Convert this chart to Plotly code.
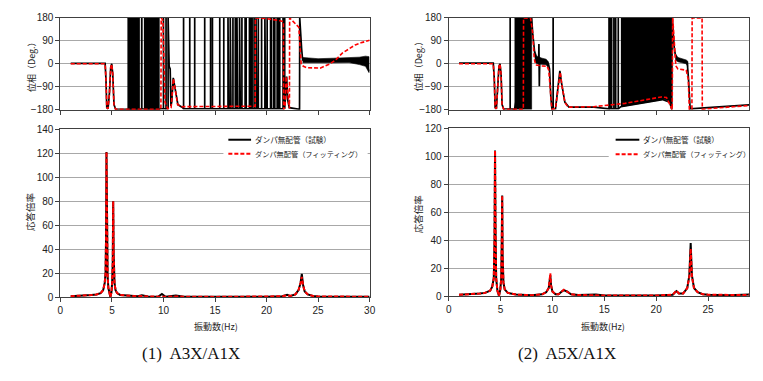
import plotly.graph_objects as go

# The page keeps the browser's default 8px body margin; the figure is sized so
# that margin + figure exactly fills the 763x381 window (no overflow, no scaling).
OFF = 8
WIN_W, WIN_H = 763, 381
FW, FH = WIN_W - 2 * OFF, WIN_H - 2 * OFF

# ---------------- data ----------------
X_TICKS = [0, 5, 10, 15, 20, 25, 30]
PH_TICKS = [-180, -90, 0, 90, 180]
PH_FLOOR = -176
PH_TOP = 180

# ---- (1) A3X/A1X  phase, test (black)
PHL_EXP_X = [1, 4.34, 4.42, 4.5, 4.62, 4.75, 4.88, 4.98, 5.08, 5.2, 5.35, 6.5, 7.7, 9.6, 9.7,
             10.45, 10.45, 10.55, 10.65, 10.72, 10.8, 10.95, 11.1, 11.4, 11.8, 21.7, 21.85,
             21.95, 22.05, 22.2, 23.2, 23.22, 23.4, 23.5, 24.5, 26, 27.5, 28.5, 29.3, 29.7, 29.95]
PHL_EXP_Y = [2, 2, -60, -172, -176, -120, -15, 0, -40, -160, -177, -178, -178, -178, -176,
             -175, 180, -10, -20, -165, -150, -55, -90, -160, -170, -172, -120,
             -50, -140, -172, -178, 180, 60, 15, 13, 12, 14, 15, 12, 5, -30]
PHL_SPIKES = [7.9, 10.0, 10.25, 11.95, 12.55, 13.03, 14.0, 14.57, 14.75, 15.46, 15.85, 16.26,
              16.32, 16.48, 16.55, 16.74, 16.97, 17.13, 17.19, 17.38, 17.45, 17.61, 17.92,
              18.02, 18.34, 18.47, 18.6, 18.79, 18.98, 19.05, 19.2, 19.52, 19.84, 19.91, 20.06,
              20.39, 20.48, 20.7, 20.8, 21.03, 21.12, 21.28, 21.6, 21.76]
BANDL1_X = [6.5, 7.7]
BANDL1_LO = [-178, -178]
BANDL1_HI = [180, 180]
BANDL2_X = [8.1, 9.6]
BANDL2_LO = [-178, -178]
BANDL2_HI = [180, 180]
BANDL3_X = [23.5, 25, 26.5, 28, 29, 29.6, 29.95]
BANDL3_LO = [4, 5, 4, 5, -3, -10, -35]
BANDL3_HI = [25, 20, 22, 24, 26, 30, 28]

# ---- (1) phase, fitting (red)
PHL_FIT_X = [1, 4.34, 4.42, 4.5, 4.62, 4.75, 4.88, 4.98, 5.08, 5.2, 5.35, 9.75, 9.78, 9.95,
             10.15, 10.4, 10.74, 10.96, 11.1, 11.37, 11.8, 15, 18.9, 18.92, 20, 21.3, 21.64,
             21.66, 21.8, 21.9, 22.05, 22.22, 22.24, 22.7, 23.13, 23.36, 23.58, 23.9, 24.5,
             25.2, 26.07, 26.7, 27.35, 28.0, 28.6, 29.3, 30]
PHL_FIT_Y = [0, 0, -60, -172, -176, -120, -15, -2, -40, -160, -178, -178, 180, 170,
             -150, -176, -172, -58, -90, -160, -168, -166, -166, 180, 177, 169, 165,
             -178, -170, -50, -120, -175, 180, 160, 143, -2, -10, -15, -17,
             -17, -2, 15, 42, 60, 74, 84, 92]

# ---- (2) A5X/A1X  phase, test (black)
PHR_EXP_X = [1, 4.3, 4.4, 4.48, 4.6, 4.72, 4.85, 4.95, 5.05, 5.15, 5.3, 6.35, 8.0, 8.1, 8.2,
             8.3, 8.45, 8.68, 8.7, 8.74, 8.78, 9.0, 9.5, 9.62, 9.72, 9.85, 9.95, 10.3, 10.55,
             10.72, 10.88, 11.2, 11.6, 14, 16.6, 18.5, 20.6, 21.3, 21.5, 21.55, 21.75, 21.9,
             22.3, 22.7, 23.0, 23.12, 23.28, 25, 27, 30]
PHR_EXP_Y = [3, 3, -60, -172, -176, -100, -10, 0, -40, -160, -177, -178, 180, 120, 60,
             40, 15, 12, 78, -88, 10, 10, 8, 0, -20, -130, -176, -176, -100,
             -28, -75, -150, -170, -170, -168, -155, -140, -150, -178, 180, 60, 25,
             14, 10, 5, -60, -176, -172, -168, -158]
PHR_SPIKES = [5.93, 10.07, 15.46, 15.6, 15.71, 15.93, 16.1, 16.35]
BANDR1_X = [6.35, 8.0]
BANDR1_LO = [-178, -178]
BANDR1_HI = [180, 180]
BANDR2_X = [16.6, 17.5, 18.5, 19.5, 20.6, 21.0, 21.3, 21.5]
BANDR2_LO = [-168, -162, -155, -148, -140, -142, -150, -178]
BANDR2_HI = [180, 180, 180, 180, 180, 180, 180, 180]
BANDR3_X = [8.3, 8.5, 9.0, 9.4, 9.6]
BANDR3_LO = [10, 0, -2, -4, -15]
BANDR3_HI = [50, 30, 22, 18, 8]
BANDR4_X = [21.85, 22.1, 22.5, 22.9, 23.05]
BANDR4_LO = [15, 8, 4, 0, -10]
BANDR4_HI = [40, 25, 20, 15, 10]

# ---- (2) phase, fitting (red)
PHR_FIT_X = [1, 4.3, 4.4, 4.48, 4.6, 4.72, 4.85, 4.95, 5.05, 5.15, 5.3, 7.2, 7.22, 7.9, 8.1,
             8.25, 8.4, 9.0, 9.5, 9.65, 9.8, 9.95, 10.3, 10.5, 10.76, 10.9, 11.2, 11.5, 14, 17,
             20.5, 21.0, 21.4, 21.55, 21.6, 21.75, 21.9, 22.1, 22.5, 22.9, 23.1, 23.2, 23.45,
             23.47, 24.43, 24.45, 25, 27, 30]
PHR_FIT_Y = [0, 0, -60, -172, -176, -100, -10, 0, -40, -160, -178, -178, 180, 178, 120,
             20, -5, -8, -10, -25, -120, -178, -175, -120, -33, -80, -150, -170, -168, -155,
             -130, -132, -170, -180, 180, 90, -8, -20, -22, -25, -60, -178, -178,
             180, 180, -178, -176, -170, -160]

# ---- (1) response ratio
MAGL_X = [1, 2, 2.5, 3, 3.5, 3.9, 4.15, 4.3, 4.38, 4.43, 4.47, 4.52, 4.58, 4.65, 4.75, 4.85,
          4.95, 5.02, 5.08, 5.12, 5.17, 5.25, 5.35, 5.5, 5.8, 6.5, 7.5, 7.9, 8.5, 9.5, 9.85,
          10.2, 11.2, 12, 15, 20, 21.5, 22.0, 22.3, 22.8, 23.1, 23.3, 23.42, 23.55, 23.7, 24,
          24.5, 25, 30]
MAGL_EXP = [1.0, 1.3, 1.6, 1.9, 2.4, 3.5, 6, 12, 20, 50, 121, 60, 18, 8, 3, 0.3,
            4, 12, 30, 80, 35, 12, 6, 3.5, 2, 1.3, 0.9, 1.8, 0.7, 0.6, 2.8,
            0.5, 1.5, 0.5, 0.4, 0.5, 0.9, 2.2, 1.2, 2.5, 6, 12, 19.5, 10, 5, 2.5,
            1.2, 0.8, 0.5]
MAGL_FIT = [1.0, 1.3, 1.6, 1.9, 2.4, 3.5, 6, 12, 20, 50, 121, 60, 18, 8, 3, 0.3,
            4, 12, 30, 80, 35, 12, 6, 3.5, 2, 1.3, 0.9, 1.2, 0.7, 0.6, 0.8,
            0.5, 0.8, 0.5, 0.4, 0.5, 0.9, 1.6, 1.2, 2.5, 6, 12, 17, 10, 5, 2.5,
            1.2, 0.8, 0.5]

# ---- (2) response ratio
MAGR_X = [1, 2, 3, 3.5, 4.0, 4.2, 4.35, 4.42, 4.47, 4.52, 4.58, 4.7, 4.85, 4.98, 5.07, 5.12,
          5.16, 5.2, 5.28, 5.4, 5.7, 6.5, 7, 8, 9, 9.4, 9.65, 9.75, 9.8, 9.87, 10.0, 10.3,
          10.6, 10.9, 11.1, 11.4, 11.8, 12.5, 14.2, 15, 20, 21.6, 21.95, 22.2, 22.6, 23.0,
          23.2, 23.33, 23.45, 23.65, 24, 24.5, 25, 27, 28, 30]
MAGR_EXP = [1.2, 1.4, 2, 2.5, 4, 7, 13, 40, 104, 45, 13, 4, 0.3, 5, 13, 40,
            72, 30, 10, 5, 2.5, 1.3, 1.0, 0.8, 1.5, 3, 6, 11, 15, 8, 3.5, 1.5,
            1.5, 3.5, 4.5, 3.5, 1.5, 1.0, 1.4, 0.6, 0.6, 1.2, 3.8, 2.0, 2.0, 6,
            15, 38, 15, 6, 3, 1.6, 1.2, 0.9, 1.3, 1.5]
MAGR_FIT = [1.2, 1.4, 2, 2.5, 4, 7, 13, 40, 104, 45, 13, 4, 0.3, 5, 13, 40,
            72, 30, 10, 5, 2.5, 1.3, 1.0, 0.8, 1.5, 3, 6, 12, 16.5, 8, 3.5, 1.5,
            1.5, 3.5, 4.8, 3.5, 1.5, 1.0, 0.8, 0.6, 0.6, 1.2, 4.2, 2.0, 2.0, 6,
            14, 34, 14, 6, 3, 1.6, 1.2, 0.9, 1.0, 1.2]

LEG_EXP = "ダンパ無配管（試験）"
LEG_FIT = "ダンパ無配管（フィッティング）"
CAPTIONS = ["(1)  A3X/A1X", "(2)  A5X/A1X"]

# ---------------- helpers ----------------
def px(x):
    return (x - OFF) / FW

def py(y):
    return 1 - (y - OFF) / FH

def with_spikes(xs, ys, spikes):
    pts = list(zip(xs, ys))
    for s in spikes:
        pts += [(s, PH_FLOOR), (s, PH_TOP), (s, PH_FLOOR)]
    pts.sort(key=lambda p: p[0])
    return [p[0] for p in pts], [p[1] for p in pts]

def band(fig, xs, lo, hi, xa, ya):
    fig.add_trace(go.Scatter(x=list(xs) + list(xs)[::-1], y=list(hi) + list(lo)[::-1],
                             mode="lines", fill="toself", fillcolor="black",
                             line=dict(width=0.6, color="black"), showlegend=False,
                             hoverinfo="skip", xaxis=xa, yaxis=ya))

BLACK = "#000000"
RED = "#ff0000"
DASH = "4px,2px"

fig = go.Figure()

# phase panels
for (xa, ya, ex, ey, spk, bands, fx, fy) in [
    ("x", "y", PHL_EXP_X, PHL_EXP_Y, PHL_SPIKES,
     [(BANDL1_X, BANDL1_LO, BANDL1_HI), (BANDL2_X, BANDL2_LO, BANDL2_HI), (BANDL3_X, BANDL3_LO, BANDL3_HI)],
     PHL_FIT_X, PHL_FIT_Y),
    ("x3", "y3", PHR_EXP_X, PHR_EXP_Y, PHR_SPIKES,
     [(BANDR1_X, BANDR1_LO, BANDR1_HI), (BANDR2_X, BANDR2_LO, BANDR2_HI),
      (BANDR3_X, BANDR3_LO, BANDR3_HI), (BANDR4_X, BANDR4_LO, BANDR4_HI)],
     PHR_FIT_X, PHR_FIT_Y),
]:
    for b in bands:
        band(fig, b[0], b[1], b[2], xa, ya)
    sx, sy = with_spikes(ex, ey, spk)
    fig.add_trace(go.Scatter(x=sx, y=sy, mode="lines", line=dict(color=BLACK, width=1.7),
                             showlegend=False, xaxis=xa, yaxis=ya))
    fig.add_trace(go.Scatter(x=fx, y=fy, mode="lines", line=dict(color=RED, width=1.6, dash=DASH),
                             showlegend=False, xaxis=xa, yaxis=ya))

# magnitude panels
for (xa, ya, mx, me, mf) in [("x2", "y2", MAGL_X, MAGL_EXP, MAGL_FIT),
                             ("x4", "y4", MAGR_X, MAGR_EXP, MAGR_FIT)]:
    fig.add_trace(go.Scatter(x=mx, y=me, mode="lines", line=dict(color=BLACK, width=2),
                             name=LEG_EXP, showlegend=False, xaxis=xa, yaxis=ya))
    fig.add_trace(go.Scatter(x=mx, y=mf, mode="lines", line=dict(color=RED, width=2, dash=DASH),
                             name=LEG_FIT, showlegend=False, xaxis=xa, yaxis=ya))

TICKFONT = dict(family="Liberation Sans, Arial", size=10, color="#222")
GRID = "#a8a8a8"
FRAME = "#404040"

def xax(dom, anchor, labels, xmax):
    return dict(domain=dom, anchor=anchor, range=[0, xmax], tickvals=X_TICKS,
                showticklabels=labels, ticks="outside", ticklen=4, tickcolor=FRAME,
                showgrid=False, zeroline=False, showline=True, linecolor=FRAME,
                linewidth=1, mirror=True, tickfont=TICKFONT, fixedrange=True)

def yax(dom, anchor, rng, tickvals):
    return dict(domain=dom, anchor=anchor, range=rng, tickvals=tickvals,
                ticks="outside", ticklen=4, tickcolor=FRAME, showgrid=True,
                gridcolor=GRID, gridwidth=1, zeroline=False, showline=True,
                linecolor=FRAME, linewidth=1, mirror=True, tickfont=TICKFONT,
                fixedrange=True)

LX = [px(58), px(371)]
RX = [px(451), 1.0]
# right panel: 0..30 Hz spans 451..766 px in the reference, window ends at 755
R_XMAX = 30 * (WIN_W - OFF - 451) / (766 - 451)
fig.update_layout(
    width=FW, height=FH, margin=dict(l=0, r=0, t=0, b=0),
    paper_bgcolor="white", plot_bgcolor="white", showlegend=False,
    xaxis=xax(LX, "y", False, 30),
    yaxis=yax([py(107), py(12)], "x", [-180, 180], PH_TICKS),
    xaxis2=xax(LX, "y2", True, 30),
    yaxis2=yax([py(301), py(127)], "x2", [0, 140], list(range(0, 141, 20))),
    xaxis3=xax(RX, "y3", False, R_XMAX),
    yaxis3=yax([py(107), py(12)], "x3", [-180, 180], PH_TICKS),
    xaxis4=xax(RX, "y4", True, R_XMAX),
    yaxis4=yax([py(300), py(126)], "x4", [0, 120], list(range(0, 121, 20))),
)

JP = "Noto Sans CJK JP"
ann = []
def text(x, y, s, size, angle=0, family=JP, xanchor="center", color="#222"):
    ann.append(dict(x=px(x), y=py(y), xref="paper", yref="paper", text=s, showarrow=False,
                    textangle=angle, xanchor=xanchor, yanchor="middle",
                    font=dict(family=family, size=size, color=color)))

text(29, 60, "位相（Deg.）", 9, -90)
text(28, 213, "応答倍率", 9.5, -90)
text(420, 60, "位相（Deg.）", 9, -90)
text(420, 215, "応答倍率", 9.5, -90)
text(215, 331, "振動数(Hz)", 9)
text(607, 331, "振動数(Hz)", 9)
text(190, 359, CAPTIONS[0], 17, family="Liberation Serif, Noto Sans CJK JP", color="#111")
text(571, 359, CAPTIONS[1], 17, family="Liberation Serif, Noto Sans CJK JP", color="#111")

shapes = []
for (bx0, bx1, by0, lx0, lx1, ty1, ty2) in [(223, 369, 128, 228, 251, 138, 152.5),
                                            (613, 755, 127, 620, 644, 138, 153)]:
    shapes.append(dict(type="rect", xref="paper", yref="paper", x0=px(bx0), x1=px(bx1),
                       y0=py(by0 + 30), y1=py(by0), fillcolor="white", line=dict(width=0),
                       layer="above"))
    shapes.append(dict(type="line", xref="paper", yref="paper", x0=px(lx0), x1=px(lx1),
                       y0=py(ty1), y1=py(ty1), line=dict(color=BLACK, width=2), layer="above"))
    shapes.append(dict(type="line", xref="paper", yref="paper", x0=px(lx0), x1=px(lx1),
                       y0=py(ty2), y1=py(ty2), line=dict(color=RED, width=2, dash=DASH),
                       layer="above"))
    text(lx1 + 1.5, ty1, LEG_EXP, 7.6, xanchor="left")
    text(lx1 + 1.5, ty2, LEG_FIT, 7.2, xanchor="left")

fig.update_layout(annotations=ann, shapes=shapes)
fig.write_html("out.html", config={"displayModeBar": False, "responsive": False})
